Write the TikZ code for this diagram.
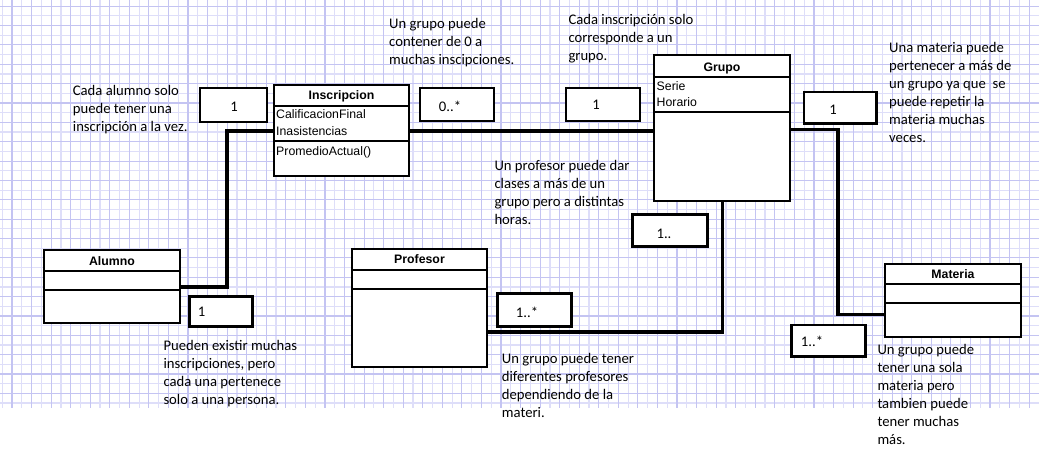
\documentclass[tikz,border=0pt]{standalone}
\usepackage{fontspec}
\setmainfont{Carlito}
\newfontfamily\arialf{Liberation Sans}
\definecolor{gridd}{RGB}{196,196,242}
\definecolor{gridl}{RGB}{222,222,249}
\begin{document}
\begin{tikzpicture}[x=1pt,y=-1pt,
  classbox/.style={draw=black, line width=2.9pt, fill=white, inner sep=0pt, outer sep=0pt},
  multbox/.style={draw=black, line width=2.9pt, fill=white, inner sep=0pt, outer sep=0pt},
  conn/.style={line width=3.2pt, black},
  sepline/.style={line width=2.7pt, black},
  note/.style={anchor=north west, align=left, inner sep=0pt, font=\fontsize{14.67}{18}\selectfont},
  mult/.style={inner sep=0pt, font=\fontsize{14.67}{18}\selectfont},
  ctitle/.style={anchor=base, inner sep=0pt, font=\arialf\bfseries\fontsize{12.3}{14}\selectfont},
  cattr/.style={anchor=base west, inner sep=0pt, font=\arialf\fontsize{12.3}{14}\selectfont},
]
\useasboundingbox (0,0) rectangle (1039,452);
\fill[white] (0,0) rectangle (1039,452);
% grid
\foreach \k in {0,...,105}{\pgfmathsetmacro{\xx}{2.22+\k*9.78}\ifodd\k\else\draw[gridl, line width=1.2pt] (\xx,0) -- (\xx,408);\fi}
\foreach \k in {0,...,41}{\pgfmathsetmacro{\yy}{6.2+\k*9.68}\ifodd\k\draw[gridl, line width=1.2pt] (0,\yy) -- (1039,\yy);\fi}
\foreach \k in {0,...,105}{\pgfmathsetmacro{\xx}{2.22+\k*9.78}\ifodd\k\draw[gridd, line width=1.1pt] (\xx,0) -- (\xx,408);\fi}
\foreach \k in {0,...,41}{\pgfmathsetmacro{\yy}{6.2+\k*9.68}\ifodd\k\else\draw[gridd, line width=1.1pt] (0,\yy) -- (1039,\yy);\fi}

% class boxes (nodes)
\node[classbox, minimum width=136pt, minimum height=73pt] (alumno) at (112,286.5) {};
\node[classbox, minimum width=135pt, minimum height=91pt] (insc) at (341.5,130.5) {};
\node[classbox, minimum width=136pt, minimum height=146pt] (grupo) at (722,128) {};
\node[classbox, minimum width=135pt, minimum height=118pt] (prof) at (419.5,308) {};
\node[classbox, minimum width=136pt, minimum height=73pt] (materia) at (953,300.5) {};

% connectors
\coordinate (a1) at (227,131);
\coordinate (a2) at (227,287);
\coordinate (g1) at (838,129.5);
\coordinate (g2) at (838,314.3);
\coordinate (p1) at (722.7,332);
\draw[conn] (insc.east |- a1) -- (grupo.west |- a1);
\draw[conn] (insc.west |- a1) -- (a1) -- (a2) -- (alumno.east |- a2);
\draw[conn] (grupo.east |- g1) -- (g1) -- (g2) -- (materia.west |- g2);
\draw[conn] (grupo.south -| p1) -- (p1) -- (prof.east |- p1);

% redraw class boxes over connector ends
\node[classbox, minimum width=136pt, minimum height=73pt] at (alumno) {};
\node[classbox, minimum width=135pt, minimum height=91pt] at (insc) {};
\node[classbox, minimum width=136pt, minimum height=146pt] at (grupo) {};
\node[classbox, minimum width=135pt, minimum height=118pt] at (prof) {};
\node[classbox, minimum width=136pt, minimum height=73pt] at (materia) {};

% compartments
\draw[sepline] (alumno.west |- 0,271) -- (alumno.east |- 0,271);
\draw[sepline] (alumno.west |- 0,290) -- (alumno.east |- 0,290);
\draw[sepline] (insc.west |- 0,106) -- (insc.east |- 0,106);
\draw[sepline] (insc.west |- 0,141) -- (insc.east |- 0,141);
\draw[sepline] (grupo.west |- 0,77) -- (grupo.east |- 0,77);
\draw[sepline] (grupo.west |- 0,112) -- (grupo.east |- 0,112);
\draw[sepline] (prof.west |- 0,270) -- (prof.east |- 0,270);
\draw[sepline] (prof.west |- 0,289) -- (prof.east |- 0,289);
\draw[sepline] (materia.west |- 0,284) -- (materia.east |- 0,284);
\draw[sepline] (materia.west |- 0,303) -- (materia.east |- 0,303);

% class texts
\node[ctitle] (alumnoT) at (112,265.1) {Alumno};
\node[ctitle] (inscT) at (341.5,99.4) {Inscripcion};
\node[ctitle] (grupoT) at (722,71.1) {Grupo};
\node[ctitle] (profT) at (419.5,263.7) {Profesor};
\node[ctitle] (materiaT) at (953,278.4) {Materia};
\node[cattr] (inscA1) at (276,118.7) {CalificacionFinal};
\node[cattr] (inscA2) at (276,135.4) {Inasistencias};
\node[cattr] (inscO1) at (276,155.4) {PromedioActual()};
\node[cattr] (grupoA1) at (656.5,90.4) {Serie};
\node[cattr] (grupoA2) at (656.5,106.7) {Horario};

% multiplicity boxes
\node[multbox, minimum width=67pt, minimum height=34pt] (m1) at (233.5,105) {};
\node[multbox, minimum width=74pt, minimum height=33pt] (m2) at (457,104.5) {};
\node[multbox, minimum width=74pt, minimum height=33pt] (m3) at (603,104.5) {};
\node[multbox, minimum width=72.7pt, minimum height=31.7pt] (m4) at (840.3,107.8) {};
\node[multbox, minimum width=74.6pt, minimum height=32.4pt] (m5) at (670,230.5) {};
\node[multbox, minimum width=73.6pt, minimum height=32.7pt] (m6) at (534.5,309.7) {};
\node[multbox, minimum width=63pt, minimum height=29.3pt] (m7) at (221.2,311.4) {};
\node[multbox, minimum width=74pt, minimum height=31.7pt] (m8) at (828.7,340.8) {};
\node[mult] (t1) at (234,106.7) {1};
\node[mult] (t2) at (450,106.3) {0..*};
\node[mult] (t3) at (596,105) {1};
\node[mult] (t4) at (833,109.3) {1};
\node[mult] (t5) at (664,234.3) {1..};
\node[mult] (t6) at (527,312) {1..*};
\node[mult] (t7) at (201.5,311.7) {1};
\node[mult] (t8) at (812,341) {1..*};

% notes
\node[note] (n1) at (72.7,85.2) {Cada alumno solo\\puede tener una\\inscripción a la vez.};
\node[note] (n2) at (389,18.5) {Un grupo puede\\contener de 0 a\\muchas inscipciones.};
\node[note] (n3) at (568.3,13.8) {Cada inscripción solo\\corresponde a un\\grupo.};
\node[note] (n4) at (889,42.2) {Una materia puede\\pertenecer a más de\\un grupo ya que~ se\\puede repetir la\\materia muchas\\veces.};
\node[note] (n5) at (494.3,160.5) {Un profesor puede dar\\clases a más de un\\grupo pero a distintas\\horas.};
\node[note] (n6) at (163.3,340.2) {Pueden existir muchas\\inscripciones, pero\\cada una pertenece\\solo a una persona.};
\node[note] (n7) at (501.7,352.8) {Un grupo puede tener\\diferentes profesores\\dependiendo de la\\materi.};
\node[note] (n8) at (877.3,343.8) {Un grupo puede\\tener una sola\\materia pero\\tambien puede\\tener muchas\\más.};
\end{tikzpicture}
\end{document}
